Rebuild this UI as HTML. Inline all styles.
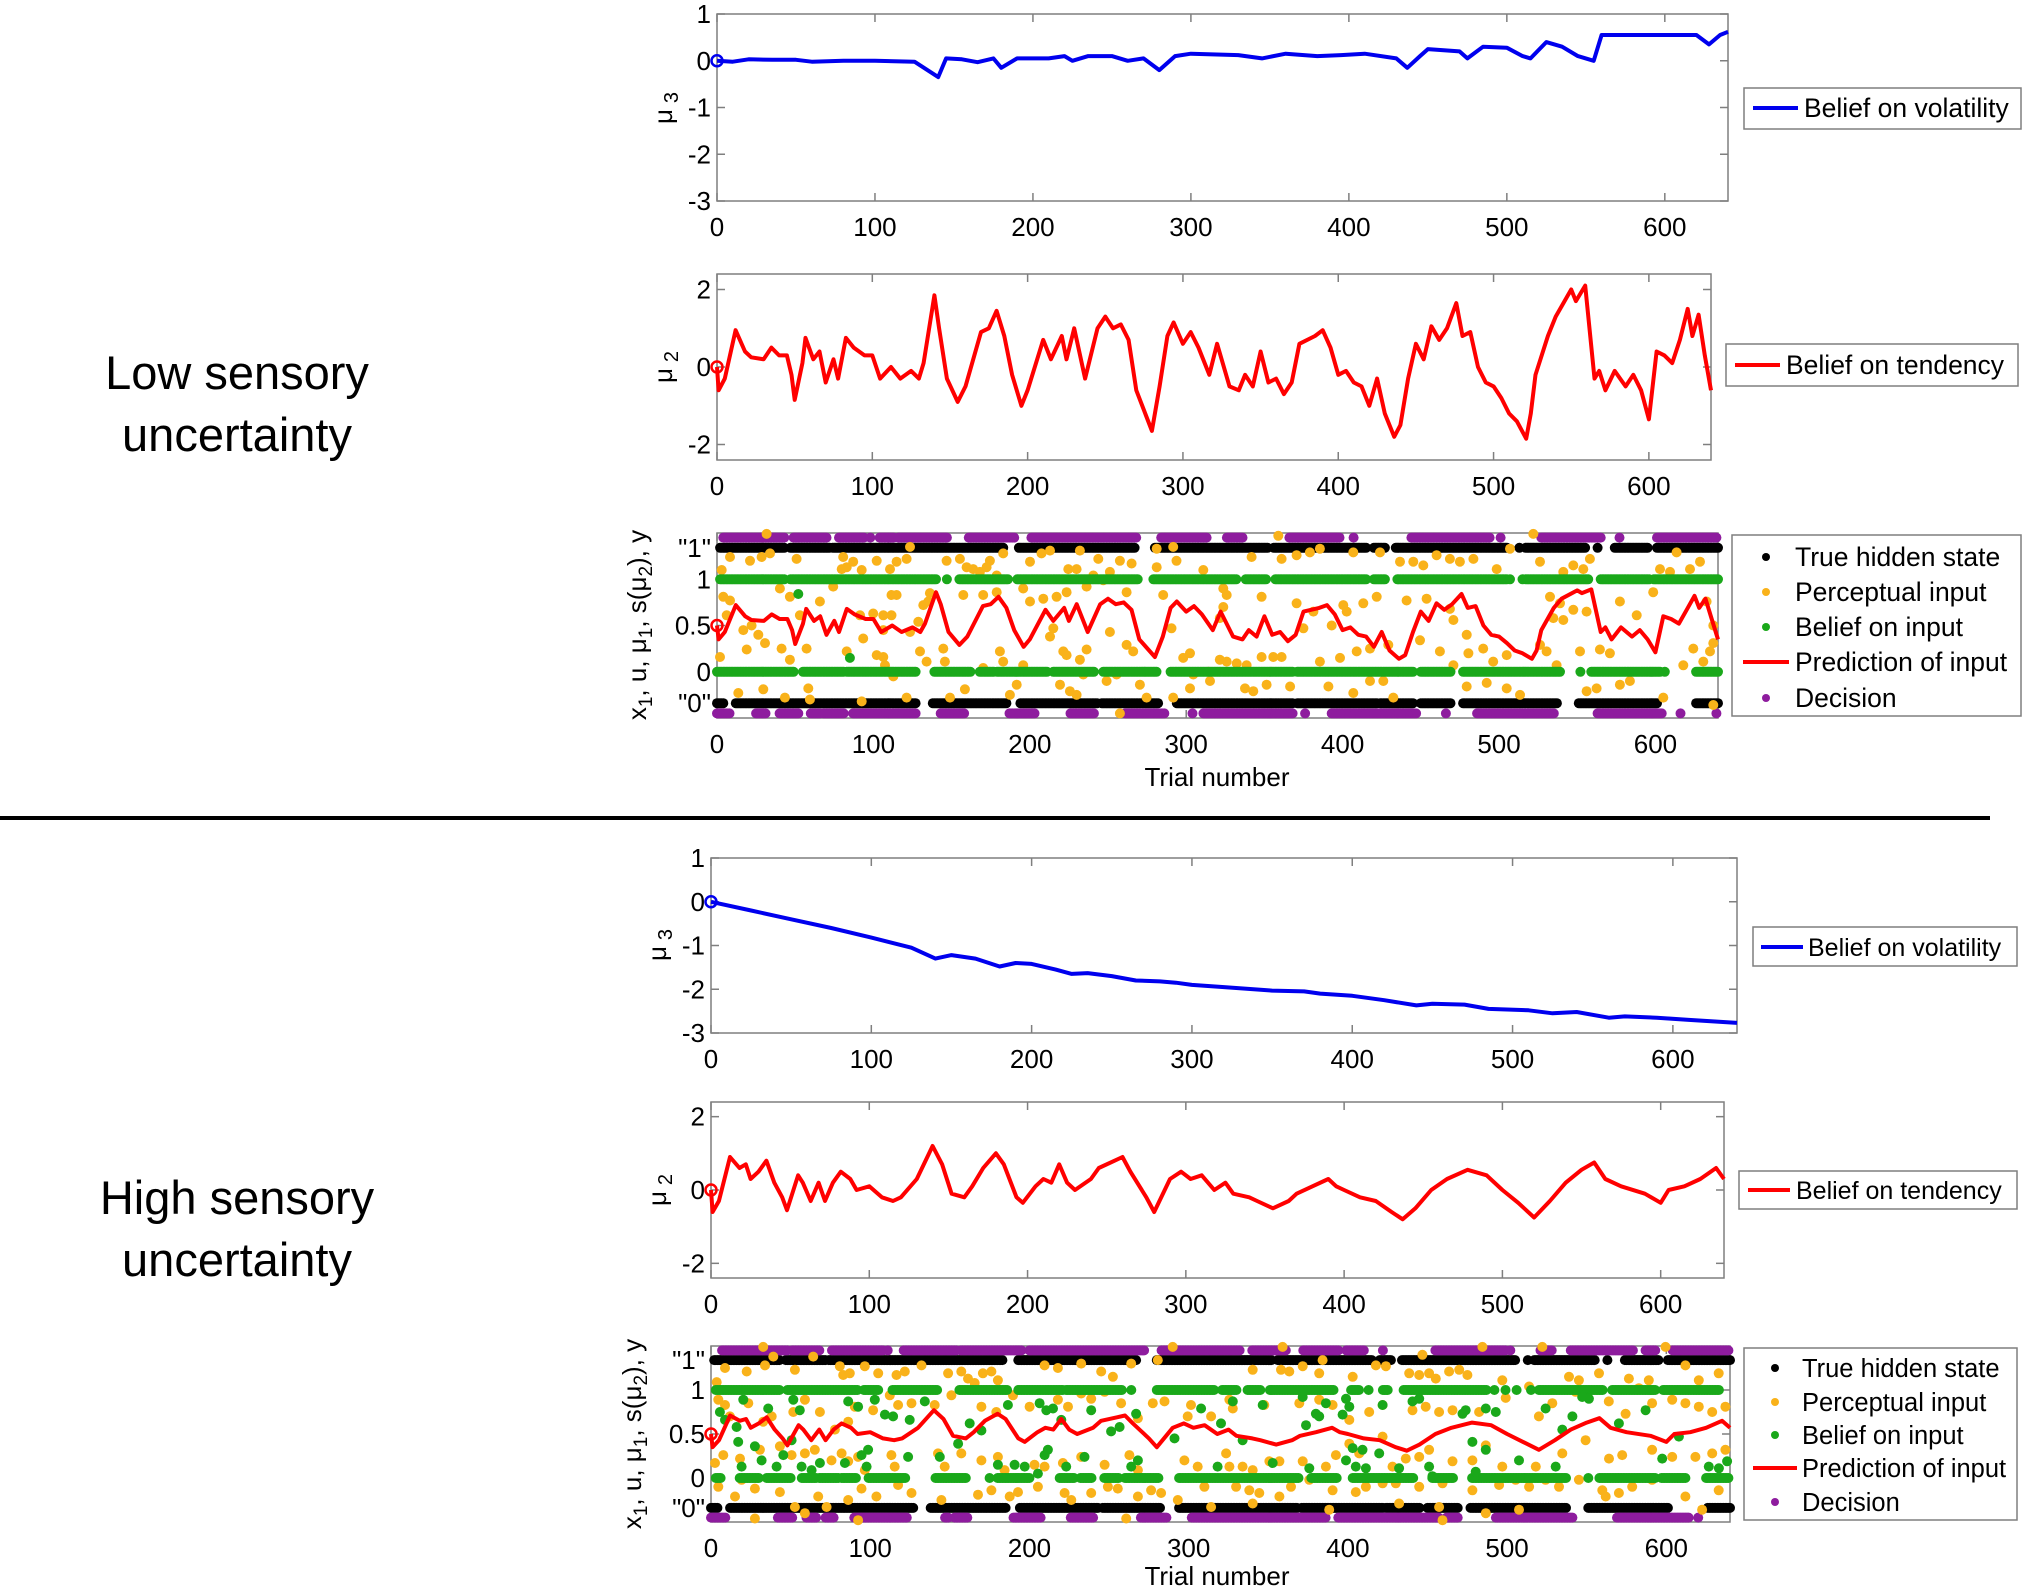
<!DOCTYPE html>
<html><head><meta charset="utf-8">
<style>
html,body{margin:0;padding:0;background:#fff;}
svg{display:block;font-family:"Liberation Sans",Arial,sans-serif;}
</style></head>
<body>
<svg id="fig" width="2030" height="1595" viewBox="0 0 2030 1595" xmlns="http://www.w3.org/2000/svg">
<rect x="0" y="0" width="2030" height="1595" fill="#fff"/>
<g font-size="47" text-anchor="middle" fill="#000">
<text x="237" y="389">Low sensory</text><text x="237" y="451">uncertainty</text></g>
<g font-size="47" text-anchor="middle" fill="#000">
<text x="237" y="1214">High sensory</text><text x="237" y="1276">uncertainty</text></g>
<line x1="0" y1="818" x2="1990" y2="818" stroke="#000" stroke-width="4"/>

<text font-size="26" text-anchor="middle" transform="translate(672,108) rotate(-90)">μ<tspan dx="6" dy="6" font-size="20">3</tspan></text>
<text font-size="26" text-anchor="middle" transform="translate(672,367) rotate(-90)">μ<tspan dx="6" dy="6" font-size="20">2</tspan></text>
<text font-size="26" text-anchor="middle" transform="translate(646,625) rotate(-90)">x<tspan dy="6" font-size="19">1</tspan><tspan dy="-6">, u, μ</tspan><tspan dy="6" font-size="19">1</tspan><tspan dy="-6">, s(μ</tspan><tspan dy="6" font-size="19">2</tspan><tspan dy="-6">), y</tspan></text>
<text font-size="26" text-anchor="middle" x="1217" y="786">Trial number</text>

<text font-size="26" text-anchor="middle" transform="translate(666,945) rotate(-90)">μ<tspan dx="6" dy="6" font-size="20">3</tspan></text>
<text font-size="26" text-anchor="middle" transform="translate(666,1190) rotate(-90)">μ<tspan dx="6" dy="6" font-size="20">2</tspan></text>
<text font-size="26" text-anchor="middle" transform="translate(641,1434) rotate(-90)">x<tspan dy="6" font-size="19">1</tspan><tspan dy="-6">, u, μ</tspan><tspan dy="6" font-size="19">1</tspan><tspan dy="-6">, s(μ</tspan><tspan dy="6" font-size="19">2</tspan><tspan dy="-6">), y</tspan></text>
<text font-size="26" text-anchor="middle" x="1217" y="1585">Trial number</text>

<g>
<rect x="1744" y="88" width="277" height="41" fill="#fff" stroke="#7f7f7f" stroke-width="1.5"/>
<line x1="1753" y1="108" x2="1798" y2="108" stroke="#0000ee" stroke-width="4"/>
<text x="1804" y="117" font-size="26.5">Belief on volatility</text></g>
<g>
<rect x="1726" y="344" width="292" height="42" fill="#fff" stroke="#7f7f7f" stroke-width="1.5"/>
<line x1="1735" y1="365" x2="1780" y2="365" stroke="#ff0000" stroke-width="4"/>
<text x="1786" y="374" font-size="26.5">Belief on tendency</text></g>
<g>
<rect x="1753" y="927" width="264" height="39" fill="#fff" stroke="#7f7f7f" stroke-width="1.5"/>
<line x1="1761" y1="947" x2="1803" y2="947" stroke="#0000ee" stroke-width="4"/>
<text x="1808" y="956" font-size="25">Belief on volatility</text></g>
<g>
<rect x="1739" y="1171" width="278" height="38" fill="#fff" stroke="#7f7f7f" stroke-width="1.5"/>
<line x1="1748" y1="1190" x2="1790" y2="1190" stroke="#ff0000" stroke-width="4"/>
<text x="1796" y="1199" font-size="25">Belief on tendency</text></g>
<g font-size="26.5">
<rect x="1732" y="535" width="289" height="181" fill="#fff" stroke="#7f7f7f" stroke-width="1.5"/>
<circle cx="1766" cy="557" r="4" fill="#000"/><text x="1795" y="566">True hidden state</text>
<circle cx="1766" cy="592" r="4" fill="#f9b21a"/><text x="1795" y="601">Perceptual input</text>
<circle cx="1766" cy="627" r="4" fill="#1aa81a"/><text x="1795" y="636">Belief on input</text>
<line x1="1743" y1="662" x2="1789" y2="662" stroke="#ff0000" stroke-width="4"/><text x="1795" y="671">Prediction of input</text>
<circle cx="1766" cy="698" r="4" fill="#8e1c9e"/><text x="1795" y="707">Decision</text></g>
<g font-size="25.5">
<rect x="1744" y="1348" width="273" height="172" fill="#fff" stroke="#7f7f7f" stroke-width="1.5"/>
<circle cx="1775" cy="1368" r="4" fill="#000"/><text x="1802" y="1377">True hidden state</text>
<circle cx="1775" cy="1402" r="4" fill="#f9b21a"/><text x="1802" y="1411">Perceptual input</text>
<circle cx="1775" cy="1435" r="4" fill="#1aa81a"/><text x="1802" y="1444">Belief on input</text>
<line x1="1753" y1="1468" x2="1797" y2="1468" stroke="#ff0000" stroke-width="4"/><text x="1802" y="1477">Prediction of input</text>
<circle cx="1775" cy="1502" r="4" fill="#8e1c9e"/><text x="1802" y="1511">Decision</text></g>
</svg>
<script>
const xTicks=[0,100,200,300,400,500,600];
const xTickLabels=['0','100','200','300','400','500','600'];
const mu3Ticks=[-3,-2,-1,0,1];
const mu3TickLabels=['-3','-2','-1','0','1'];
const mu2Ticks=[-2,0,2];
const mu2TickLabels=['-2','0','2'];
const inTicks=[-0.34,0,0.5,1,1.34];
const inTickLabels=['"0"','0','0.5','1','"1"'];

const mu3Low=[[0,0],[10,-0.02],[20,0.03],[35,0.02],[50,0.02],[60,-0.02],[80,0],[100,0],[125,-0.02],[140,-0.35],[145,0.05],[155,0.03],[165,-0.03],[175,0.05],[180,-0.15],[190,0.05],[210,0.05],[220,0.1],[225,0],[235,0.1],[250,0.1],[260,0],[270,0.05],[280,-0.2],[290,0.1],[300,0.15],[330,0.12],[345,0.05],[360,0.15],[380,0.1],[395,0.12],[410,0.15],[430,0.05],[437,-0.15],[445,0.1],[450,0.25],[470,0.2],[475,0.05],[485,0.3],[500,0.28],[510,0.1],[515,0.05],[525,0.4],[535,0.3],[545,0.1],[555,0],[560,0.55],[580,0.55],[600,0.55],[620,0.55],[628,0.35],[635,0.55],[640,0.62]];
const mu2Low=[[0,0],[1,-0.6],[5,-0.3],[12,0.95],[18,0.4],[22,0.25],[30,0.2],[35,0.5],[40,0.3],[45,0.3],[48,-0.2],[50,-0.85],[55,0.1],[57,0.75],[62,0.2],[66,0.4],[70,-0.4],[75,0.2],[78,-0.3],[83,0.75],[88,0.5],[95,0.3],[100,0.3],[105,-0.3],[112,0],[118,-0.3],[125,-0.1],[130,-0.3],[133,0.1],[140,1.85],[143,1.0],[148,-0.3],[155,-0.9],[160,-0.5],[170,0.9],[175,1.0],[180,1.45],[185,0.8],[190,-0.2],[196,-1.0],[200,-0.6],[210,0.7],[215,0.2],[222,0.8],[225,0.2],[230,1.0],[237,-0.3],[245,1.0],[250,1.3],[255,1.0],[260,1.1],[265,0.7],[270,-0.6],[280,-1.65],[285,-0.5],[290,0.8],[294,1.15],[300,0.6],[305,0.9],[310,0.5],[317,-0.2],[322,0.6],[330,-0.5],[336,-0.6],[340,-0.2],[345,-0.5],[350,0.4],[355,-0.4],[360,-0.3],[365,-0.7],[370,-0.4],[375,0.6],[385,0.8],[390,0.95],[395,0.5],[400,-0.2],[405,-0.1],[410,-0.4],[415,-0.5],[420,-1.0],[425,-0.3],[430,-1.2],[436,-1.8],[440,-1.5],[445,-0.3],[450,0.6],[455,0.2],[460,1.05],[465,0.7],[470,1.0],[476,1.65],[480,0.8],[485,0.9],[490,0],[495,-0.4],[500,-0.5],[505,-0.8],[510,-1.2],[515,-1.4],[521,-1.85],[524,-1.2],[527,-0.2],[535,0.8],[540,1.3],[550,2.0],[553,1.7],[559,2.1],[565,-0.3],[568,-0.1],[572,-0.6],[578,-0.1],[585,-0.5],[590,-0.2],[595,-0.6],[600,-1.35],[605,0.4],[610,0.3],[615,0.1],[620,0.7],[625,1.5],[628,0.8],[632,1.35],[636,0.3],[640,-0.6]];
const predLow=[[0,0.5],[1,0.35],[5,0.43],[12,0.72],[18,0.6],[22,0.56],[30,0.55],[35,0.62],[40,0.57],[45,0.57],[48,0.45],[50,0.3],[55,0.52],[57,0.68],[62,0.55],[66,0.6],[70,0.4],[75,0.55],[78,0.43],[83,0.68],[88,0.62],[95,0.57],[100,0.57],[105,0.43],[112,0.5],[118,0.43],[125,0.48],[130,0.43],[133,0.52],[140,0.86],[143,0.73],[148,0.43],[155,0.29],[160,0.38],[170,0.71],[175,0.73],[180,0.81],[185,0.69],[190,0.45],[196,0.27],[200,0.35],[210,0.67],[215,0.55],[222,0.69],[225,0.55],[230,0.73],[237,0.43],[245,0.73],[250,0.79],[255,0.73],[260,0.75],[265,0.67],[270,0.35],[280,0.16],[285,0.38],[290,0.69],[294,0.76],[300,0.65],[305,0.71],[310,0.62],[317,0.45],[322,0.65],[330,0.38],[336,0.35],[340,0.45],[345,0.38],[350,0.6],[355,0.4],[360,0.43],[365,0.33],[370,0.4],[375,0.65],[385,0.69],[390,0.72],[395,0.62],[400,0.45],[405,0.48],[410,0.4],[415,0.38],[420,0.27],[425,0.43],[430,0.23],[436,0.14],[440,0.18],[445,0.43],[450,0.65],[455,0.55],[460,0.74],[465,0.67],[470,0.73],[476,0.84],[480,0.69],[485,0.71],[490,0.5],[495,0.4],[500,0.38],[505,0.31],[510,0.23],[515,0.2],[521,0.14],[524,0.23],[527,0.45],[535,0.69],[540,0.79],[550,0.88],[553,0.85],[559,0.89],[565,0.43],[568,0.48],[572,0.35],[578,0.48],[585,0.38],[590,0.45],[595,0.35],[600,0.21],[605,0.6],[610,0.57],[615,0.52],[620,0.67],[625,0.82],[628,0.69],[632,0.79],[636,0.57],[640,0.35]];

const mu3High=[[0,0],[25,-0.2],[50,-0.4],[75,-0.6],[100,-0.82],[125,-1.05],[140,-1.3],[150,-1.22],[165,-1.3],[180,-1.48],[190,-1.4],[200,-1.42],[215,-1.55],[225,-1.65],[235,-1.63],[250,-1.7],[265,-1.8],[280,-1.82],[290,-1.85],[300,-1.9],[320,-1.95],[350,-2.03],[370,-2.05],[380,-2.1],[400,-2.15],[420,-2.25],[440,-2.37],[450,-2.33],[470,-2.35],[485,-2.45],[510,-2.48],[525,-2.55],[540,-2.52],[560,-2.65],[570,-2.62],[590,-2.65],[610,-2.7],[640,-2.77]];
const mu2High=[[0,0],[1,-0.6],[5,-0.3],[12,0.9],[18,0.6],[22,0.7],[25,0.3],[30,0.5],[35,0.8],[40,0.2],[45,-0.2],[48,-0.55],[55,0.4],[58,0.2],[63,-0.3],[68,0.2],[72,-0.3],[77,0.2],[82,0.5],[88,0.3],[92,0],[100,0.1],[108,-0.2],[115,-0.3],[120,-0.2],[130,0.3],[140,1.2],[146,0.7],[152,-0.1],[160,-0.2],[165,0.1],[172,0.6],[180,1.0],[185,0.7],[193,-0.2],[197,-0.35],[205,0.1],[210,0.3],[215,0.2],[220,0.7],[225,0.2],[230,0],[240,0.3],[245,0.6],[255,0.8],[260,0.9],[265,0.5],[275,-0.2],[280,-0.6],[290,0.3],[297,0.5],[303,0.3],[310,0.4],[318,0],[325,0.2],[330,-0.1],[340,-0.2],[345,-0.3],[355,-0.5],[365,-0.3],[370,-0.1],[380,0.1],[390,0.3],[395,0.1],[400,0],[410,-0.2],[420,-0.3],[430,-0.6],[437,-0.8],[445,-0.5],[455,0],[465,0.3],[478,0.55],[490,0.4],[500,0],[510,-0.35],[520,-0.75],[530,-0.3],[540,0.2],[550,0.55],[558,0.75],[565,0.3],[575,0.1],[590,-0.1],[600,-0.35],[605,0],[615,0.1],[625,0.3],[635,0.6],[640,0.3]];
const predHigh=[[0,0.5],[1,0.35],[5,0.43],[12,0.71],[18,0.65],[22,0.67],[25,0.57],[30,0.62],[35,0.69],[40,0.55],[45,0.45],[48,0.37],[55,0.6],[58,0.55],[63,0.43],[68,0.55],[72,0.43],[77,0.55],[82,0.62],[88,0.57],[92,0.5],[100,0.52],[108,0.45],[115,0.43],[120,0.45],[130,0.57],[140,0.77],[146,0.67],[152,0.48],[160,0.45],[165,0.52],[172,0.65],[180,0.73],[185,0.67],[193,0.45],[197,0.41],[205,0.52],[210,0.57],[215,0.55],[220,0.67],[225,0.55],[230,0.5],[240,0.57],[245,0.65],[255,0.69],[260,0.71],[265,0.62],[275,0.45],[280,0.35],[290,0.57],[297,0.62],[303,0.57],[310,0.6],[318,0.5],[325,0.55],[330,0.48],[340,0.45],[345,0.43],[355,0.38],[365,0.43],[370,0.48],[380,0.52],[390,0.57],[395,0.52],[400,0.5],[410,0.45],[420,0.43],[430,0.35],[437,0.31],[445,0.38],[455,0.5],[465,0.57],[478,0.63],[490,0.6],[500,0.5],[510,0.41],[520,0.32],[530,0.43],[540,0.55],[550,0.63],[558,0.68],[565,0.57],[575,0.52],[590,0.48],[600,0.41],[605,0.5],[615,0.52],[625,0.57],[635,0.65],[640,0.57]];

const truthOneRuns=[[2,43],[47,72],[74,183],[193,267],[280,352],[356,415],[420,427],[434,505],[513,513],[517,555],[563,563],[574,595],[601,640]];
const truthZeroRuns=[[0,4],[12,127],[138,185],[194,243],[246,282],[294,368],[371,422],[424,445],[450,469],[477,537],[551,601],[626,640]];
const decLowOneRuns=[[4,43],[49,70],[78,94],[98,98],[104,113],[116,147],[161,190],[201,268],[284,313],[326,336],[366,398],[407,407],[444,494],[501,501],[527,565],[577,577],[601,639]];
const decLowZeroRuns=[[0,8],[25,31],[40,52],[60,66],[68,81],[87,127],[143,158],[187,203],[226,241],[261,286],[304,304],[311,368],[376,376],[393,447],[466,466],[486,535],[563,604],[616,616],[639,639]];
const decHighOneRuns=[[7,48],[51,68],[76,108],[111,111],[121,154],[157,195],[200,272],[283,332],[340,361],[372,394],[399,410],[422,422],[455,499],[502,502],[521,528],[540,579],[587,593],[604,639]];
const decHighZeroRuns=[[0,9],[42,51],[60,66],[72,77],[90,123],[147,149],[153,161],[190,207],[226,240],[270,286],[302,386],[394,457],[462,469],[493,541],[569,614],[620,620]];
const beliefLowOneRuns=[[2,43],[47,140],[147,147],[155,186],[192,269],[279,332],[338,351],[357,415],[420,427],[435,505],[507,507],[515,515],[517,557],[565,596],[599,640]];
const beliefLowZeroRuns=[[0,49],[55,81],[83,127],[139,162],[168,177],[179,211],[215,241],[247,281],[290,368],[371,445],[450,469],[477,539],[552,552],[559,603],[606,606],[626,640]];
const beliefLowOther=[[52,0.84],[85,0.15]];
const beliefHighOneRuns=[[3,43],[48,92],[96,105],[114,142],[156,186],[193,221],[223,258],[264,264],[280,316],[321,330],[337,345],[351,391],[402,407],[413,413],[422,425],[435,487],[492,492],[499,499],[506,506],[515,515],[520,560],[566,593],[598,633]];
const beliefHighZeroRuns=[[3,6],[18,30],[35,50],[57,66],[68,80],[82,91],[99,122],[141,160],[175,175],[180,200],[219,228],[232,239],[247,256],[260,281],[294,369],[377,393],[403,441],[453,466],[478,537],[551,551],[558,593],[597,612],[625,639]];
const beliefHighOther=[[5.6,0.75],[20.3,0.89],[8.8,0.66],[16.1,0.58],[17.1,0.41],[27.6,0.36],[19.2,0.13],[31.8,0.2],[35.9,0.79],[41.2,0.13],[45.4,0.26],[51.7,0.89],[55.8,0.77],[50.6,0.43],[56.9,0.13],[63.2,0.09],[68.4,0.17],[84.1,0.17],[86.2,0.87],[92.4,0.81],[94.5,0.26],[98.7,0.32],[97.7,0.13],[102.9,0.89],[109.2,0.72],[114.4,0.7],[123.8,0.24],[124.8,0.66],[134.3,0.87],[143.7,0.24],[155.2,0.39],[162.5,0.62],[169.8,0.54],[180.2,0.15],[186.5,0.83],[190.7,0.15],[197,0.13],[205.3,0.05],[206.4,0.85],[209.5,0.26],[211.6,0.32],[210.6,0.77],[214.8,0.79],[220,0.66],[223.1,0.13],[234.6,0.24],[238.8,0.77],[251.3,0.53],[256.6,0.58],[263.9,0.13],[267,0.73],[268.1,0.2],[291.1,0.45],[307.8,0.79],[318.2,0.13],
[320.3,0.62],[327.7,0.87],[333.9,0.43],[346.5,0.83],[352.8,0.17],[371.6,0.92],[373.7,0.6],[379.9,0.73],[375.8,0.11],[382,0.7],[386.2,0.85],[398.8,0.9],[400.9,0.81],[396.7,0.72],[403,0.34],[398.8,0.2],[405,0.13],[409.2,0.32],[411.3,0.11],[419.7,0.28],[421.8,0.83],[432.2,0.11],[451,0.13],[453.1,0.02],[440.6,0.87],[444.8,0.9],[472,0.73],[474,0.77],[486.6,0.79],[492.9,0.75],[478.2,0.41],[486.6,0.32],[480.3,0.07],[507.5,0.2],[524.2,0.79],[534.7,0.55],[541,0.7],[551.4,0.9],[547.2,0.92],[570.2,0.62],[587,0.77],[597.4,0.22],[607.9,0.47],[626.7,0.13],[633,0.11],[638.2,0.19],[530.5,0.13]];
const inputLow=[[31.7,1.49],[8.3,1.24],[21.1,1.2],[28.5,1.24],[33.9,1.28],[3,1.1],[40.2,0.9],[4,0.81],[8.3,0.77],[50.9,1.22],[46.6,0.81],[65.8,0.76],[53,0.61],[6.2,0.61],[16.8,0.45],[22.1,0.5],[26.4,0.4],[30.7,0.31],[19,0.24],[41.3,0.25],[46.6,0.13],[57.3,0.25],[1.9,0.16],[13.6,-0.23],[29.6,-0.19],[43.4,-0.28],[58.4,-0.18],[59.4,-0.3],[74.3,0.92],[79.7,1.11],[80.7,1.24],[82.9,1.13],[87.1,1.19],[92.5,1.1],[102.1,1.2],[110.6,1.11],[114.8,1.19],[121.2,1.22],[123.4,1.35],[82.9,0.22],[91.4,0.61],[99.9,0.63],[106.3,0.61],[111.6,0.61],[93.5,0.36],[102.1,0.18],[106.3,0.16],[107.4,0.07],[92.5,-0.32],[112.7,-0.05],[121.2,-0.28],[114.8,0.83],[111.6,0.83],[106.3,0.45],[123.4,0.43],[128.7,0.54],[131.9,0.72],[135.1,0.76],[136.1,0.85],[129.8,0.22],[134,0.11],[146.8,1.2],[155.3,1.22],[159.6,1.13],[163.8,1.11],[168.1,1.08],[174.5,1.2],[172.4,1.13],[178.8,1.04],[183,1.28],[157.5,0.83],[170.2,0.83],[178.8,0.86],[144.7,0.25],[145.7,0.11],[149,-0.28],[158.5,-0.19],[170.2,0.04],[180.9,0.22],[183,0.11],[195.8,0.07],[187.3,-0.25],[191.6,-0.14],[200.1,1.19],[207.5,1.28],[212.9,1.31],[224.6,1.11],[229.9,1.11],[232,1.31],[236.3,0.92],[243.8,1.22],[251.2,1.08],[257.6,1.2],[265.1,1.17],[195.8,0.9],[200.1,0.76],[208.6,0.79],[215,0.47],[217.1,0.81],[223.5,0.86],[212.9,0.38],[221.4,0.22],[223.5,0.18],[232,0.13],[236.3,0.24],[219.3,-0.14],[225.6,-0.21],[229.9,-0.25],[234.2,-0.03],[249.1,-0.1],[255.5,-0.03],[261.9,0.29],[266.1,0.22],[270.4,-0.14],[274.7,-0.28],[257.6,-0.45],[281.1,1.13],[285.3,0.83],[293.8,1.2],[298.1,0.15],[302.4,0.2],[304.5,-0.03],[310.9,1.1],[314.1,0],[321.5,0.13],[323.7,0.9],[323.7,0.7],[321.5,0.58],[290.6,0.47],[291.7,-0.28],[302.4,-0.18],[315.2,-0.1],[251.2,0.43],[261.9,0.86],[247,0.99],[240.6,1.04],[281.1,1.33],[291.7,1.35],
[358.9,1.47],[341.8,1.24],[361,1.22],[370.6,1.26],[379.1,1.29],[385.5,1.33],[406.8,1.29],[423.9,1.29],[348.2,0.81],[325.9,0.83],[370.6,0.74],[381.3,0.65],[400.4,0.72],[402.6,0.65],[421.8,0.81],[413.2,0.74],[374.9,0.47],[393,0.5],[325.9,0.11],[332.3,0.09],[338.6,0.07],[348.2,0.16],[355.7,0.16],[361,0.16],[385.5,0.11],[398.3,0.15],[409,0.22],[417.5,0.25],[429.2,0.29],[337.6,-0.18],[342.9,-0.21],[351.4,-0.14],[366.4,-0.16],[390.9,-0.16],[406.8,-0.23],[417.5,-0.1],[426,-0.1],[432.4,-0.28],[436.7,1.19],[445.2,1.19],[451.6,1.15],[460.1,1.26],[468.6,1.22],[475,1.19],[483.6,1.22],[498.5,1.11],[507,1.33],[440.9,0.77],[453.7,0.79],[468.6,0.68],[470.8,0.56],[479.3,0.4],[449.5,0.34],[462.2,0.22],[480.4,0.2],[489.9,0.25],[496.3,0.11],[504.9,0.18],[470.8,0.07],[479.3,-0.16],[492.1,-0.12],[504.9,-0.18],[513.4,-0.25],[521.9,1.49],[526.2,1.19],[541.1,1.08],[547.5,1.15],[553.9,1.11],[558.1,1.22],[532.6,0.81],[539,0.74],[547.5,0.67],[556,0.65],[534.7,0.58],[541.1,0.56],[526.2,0.29],[530.4,0.22],[536.8,0.07],[551.8,0.22],[564.5,0.24],[570.9,0.2],[556,-0.21],[562.4,-0.18],[577.3,-0.14],[583.7,-0.1],[577.3,0.76],[588,0.61],[598.6,0.86],[602.9,1.11],[609.3,1.08],[613.5,1.29],[622.1,1.11],[628.5,1.19],[632.7,0.76],[637,0.5],[637,0.31],[624.2,0.25],[617.8,0.07],[630.6,0.11],[634.9,0.22],[605,-0.28],[637,-0.36]];
const inputHigh=[[32.8,1.49],[8.8,1.25],[22.4,1.21],[33.9,1.28],[39.1,1.38],[52.7,1.23],[64.2,1.38],[80.9,1.27],[83,1.17],[87.2,1.19],[96.6,1.27],[105,1.19],[116.5,1.17],[121.7,1.21],[132.2,1.28],[148.9,1.19],[157.2,1.21],[161.4,1.13],[165.6,1.08],[170.8,1.19],[176.1,1.21],[180.2,1.11],[209.5,1.28],[217.9,1.25],[232.5,1.3],[245.1,1.21],[252.4,1.15],[263.9,1.3],[280.6,1.34],[290,1.49],[3.6,1.09],[4.6,0.89],[8.8,0.83],[11.9,0.7],[23.4,0.85],[32.8,0.64],[38.1,0.7],[51.7,0.75],[59,0.89],[68.4,0.75],[77.8,0.55],[86.2,0.64],[90.3,0.81],[101.8,0.77],[112.3,0.94],[117.5,0.83],[125.9,0.85],[140.5,0.83],[151,0.94],[169.8,0.81],[179.2,0.75],[189.7,0.94],[200.1,0.81],[217.9,0.89],[224.2,0.81],[232.5,0.96],[238.8,0.9],[247.2,0.98],[257.6,0.85],[268.1,0.68],[277.5,0.85],[284.8,0.87],[301.5,0.83],[314.1,0.7],[299.4,0.7],[2.5,0.17],[7.7,0.26],[18.2,0.22],[30.7,0.32],[43.3,0.36],[50.6,0.26],[59,0.28],[65.2,0.32],[75.7,0.2],[82,0.28],[86.2,0.19],[92.4,0.24],[96.6,0.09],[113.3,0.26],[115.4,0.13],[142.6,0.28],[146.8,0.13],[157.2,0.28],[169.8,0.2],[180.2,0.24],[184.4,0.09],[203.2,0.15],[209.5,0.13],[221,0.17],[232.5,0.24],[247.2,0.15],[262.8,0.26],[268.1,0.09],[297.3,0.2],[305.7,0.13],[4.6,-0.1],[15.1,-0.21],[19.2,-0.02],[27.6,-0.12],[43.3,-0.16],[52.7,-0.33],[59,-0.4],[67.3,-0.21],[72.6,-0.33],[86.2,-0.25],[94.5,-0.12],[103.9,-0.21],[117.5,-0.08],[125.9,-0.17],[144.7,-0.25],[167.7,-0.19],[176.1,-0.14],[187.6,-0.21],[192.8,-0.16],[205.3,-0.1],[222.1,-0.17],[226.3,-0.25],[238.8,-0.17],[249.3,-0.1],[255.5,-0.12],[268.1,-0.21],[276.4,-0.14],[282.7,-0.17],[293.2,-0.25],[309.9,-0.1],[314.1,-0.33],[27.6,-0.46],[92.4,-0.48],[260.8,-0.46],
[359,1.49],[340.2,1.23],[358,1.23],[363.2,1.21],[371.6,1.27],[382,1.19],[384.1,1.34],[403,1.15],[417.6,1.28],[423.9,1.27],[446.8,1.4],[438.5,1.19],[444.8,1.17],[451,1.19],[455.2,1.13],[463.6,1.21],[469.9,1.23],[475.1,1.17],[484.5,1.49],[497,1.11],[522.1,1.49],[538.9,1.15],[545.1,1.11],[557.7,1.19],[576.5,1.13],[589,1.11],[599.5,1.49],[612,1.28],[620.4,1.11],[632.9,1.19],[325.6,0.89],[327.7,0.79],[347.5,0.83],[369.5,0.85],[382,0.89],[390.4,0.83],[400.9,0.66],[413.4,0.75],[421.8,0.83],[440.6,0.77],[448.9,0.81],[457.3,0.75],[465.7,0.77],[482.4,0.75],[499.1,0.91],[513.8,1.04],[520,0.7],[528.4,0.85],[543,0.98],[563.9,0.87],[574.4,0.73],[582.8,1.02],[591.1,0.85],[603.7,0.89],[612,0.85],[620.4,0.81],[628.8,0.75],[637.1,0.81],[323.5,0.28],[325.6,0.13],[333.9,0.13],[340.2,0.09],[350.7,0.19],[357,0.19],[371.6,0.19],[386.2,0.13],[392.5,0.26],[400.9,0.39],[407.1,0.28],[421.8,0.47],[428,0.13],[436.4,0.22],[444.8,0.24],[451,0.32],[465.7,0.19],[478.2,0.2],[486.6,0.37],[497,0.13],[518,0.13],[534.7,0.28],[549.3,0.43],[564,0.22],[572.3,0.26],[591.1,0.32],[603.7,0.24],[618.3,0.24],[628.8,0.28],[637.1,0.32],[329.8,-0.1],[338.1,-0.14],[344.4,-0.17],[357,-0.21],[364.3,-0.1],[375.8,-0.02],[390.4,-0.14],[405,-0.16],[411.3,-0.1],[421.8,-0.06],[430.1,-0.06],[444.8,-0.1],[459.4,-0.06],[478.2,-0.14],[495,-0.08],[505.4,-0.02],[513.8,-0.1],[524.2,-0.02],[532.6,-0.1],[545.1,-0.02],[559.8,-0.14],[570.2,-0.17],[578.6,-0.1],[591.1,-0.02],[612,-0.21],[632.9,-0.14],[340.2,-0.29],[388.3,-0.36],[432.2,-0.29],[457.3,-0.33],[486.6,-0.4],[507.5,-0.36],[561.9,-0.21],[622.5,-0.36],[459.4,-0.48]];

const NS='http://www.w3.org/2000/svg';
const svg=document.getElementById('fig');
function mk(tag,parent){const e=document.createElementNS(NS,tag);parent.appendChild(e);return e;}
const AX='#7f7f7f';

function makeAxes(p){
  const g=mk('g',svg);
  
  
  p.g=g;
  p.sx=t=>p.x0+(t/640)*(p.x1-p.x0);
  p.sy=v=>p.y1-(v-p.ymin)/(p.ymax-p.ymin)*(p.y1-p.y0);
  const box=mk('rect',g);
  
  
  box.setAttribute('x',p.x0);box.setAttribute('y',p.y0);
  box.setAttribute('width',p.x1-p.x0);box.setAttribute('height',p.y1-p.y0);
  box.setAttribute('fill','none');box.setAttribute('stroke',AX);box.setAttribute('stroke-width','1.5');
  xTicks.forEach((t,i)=>{
    const x=p.sx(t);
    [[p.y1,p.y1-8],[p.y0,p.y0+8]].forEach(([a,b])=>{
      const l=mk('line',g);
      
      
      l.setAttribute('x1',x);l.setAttribute('x2',x);l.setAttribute('y1',a);l.setAttribute('y2',b);
      l.setAttribute('stroke',AX);l.setAttribute('stroke-width','1.5');
    });
    const tx=mk('text',g);
    
    
    tx.setAttribute('x',x);tx.setAttribute('y',p.y1+35);
    tx.setAttribute('font-size','26');tx.setAttribute('text-anchor','middle');
    tx.textContent=xTickLabels[i];
  });
  p.yt.forEach((v,i)=>{
    const y=p.sy(v);
    [[p.x0,p.x0+8],[p.x1,p.x1-8]].forEach(([a,b])=>{
      const l=mk('line',g);
      
      
      l.setAttribute('x1',a);l.setAttribute('x2',b);l.setAttribute('y1',y);l.setAttribute('y2',y);
      l.setAttribute('stroke',AX);l.setAttribute('stroke-width','1.5');
    });
    const tx=mk('text',g);
    
    
    tx.setAttribute('x',p.x0-6);tx.setAttribute('y',y+9);
    tx.setAttribute('font-size','26');tx.setAttribute('text-anchor','end');
    tx.textContent=p.ytl[i];
  });
  return p;
}
function drawLine(p,data,color,name){
  const pl=mk('polyline',p.g);
  
  
  pl.setAttribute('points',data.map(d=>p.sx(d[0]).toFixed(1)+','+p.sy(d[1]).toFixed(1)).join(' '));
  pl.setAttribute('fill','none');pl.setAttribute('stroke',color);
  pl.setAttribute('stroke-width','4');pl.setAttribute('stroke-linejoin','round');
  const c=mk('circle',p.g);
  
  
  c.setAttribute('cx',p.sx(data[0][0]));c.setAttribute('cy',p.sy(data[0][1]));
  c.setAttribute('r','5.5');c.setAttribute('fill','none');c.setAttribute('stroke',color);c.setAttribute('stroke-width','2.5');
}
function drawRuns(p,runs,val,color,name){
  const g=mk('g',p.g);
  
  
  runs.forEach(r=>{
    for(let t=r[0];t<=r[1];t++){
      const c=mk('circle',g);
      c.setAttribute('cx',p.sx(t).toFixed(1));c.setAttribute('cy',p.sy(val).toFixed(1));
      c.setAttribute('r','5');c.setAttribute('fill',color);
    }
  });
}
function drawPts(p,pts,color,name){
  const g=mk('g',p.g);
  
  
  pts.forEach(d=>{
    const c=mk('circle',g);
    c.setAttribute('cx',p.sx(d[0]).toFixed(1));c.setAttribute('cy',p.sy(d[1]).toFixed(1));
    c.setAttribute('r','5');c.setAttribute('fill',color);
  });
}

const BLACK='#000',ORANGE='#f9b21a',GREEN='#1aa81a',PURPLE='#8e1c9e',BLUE='#0000ee',RED='#ff0000';

const p1=makeAxes({name:'volatility-panel-low',x0:717,x1:1728,y0:14,y1:201,ymin:-3,ymax:1,yt:mu3Ticks,ytl:mu3TickLabels});
drawLine(p1,mu3Low,BLUE,'volatility-line-low');
const p2=makeAxes({name:'tendency-panel-low',x0:717,x1:1711,y0:274,y1:460,ymin:-2.4,ymax:2.4,yt:mu2Ticks,ytl:mu2TickLabels});
drawLine(p2,mu2Low,RED,'tendency-line-low');
const p3=makeAxes({name:'input-panel-low',x0:717,x1:1718,y0:533,y1:718,ymin:-0.5,ymax:1.5,yt:inTicks,ytl:inTickLabels});
drawRuns(p3,truthOneRuns,1.34,BLACK,'true-state-one-low');
drawRuns(p3,truthZeroRuns,-0.34,BLACK,'true-state-zero-low');
drawRuns(p3,decLowOneRuns,1.45,PURPLE,'decision-one-low');
drawRuns(p3,decLowZeroRuns,-0.45,PURPLE,'decision-zero-low');
drawPts(p3,inputLow,ORANGE,'perceptual-input-low');
drawRuns(p3,beliefLowOneRuns,1,GREEN,'belief-one-low');
drawRuns(p3,beliefLowZeroRuns,0,GREEN,'belief-zero-low');
drawPts(p3,beliefLowOther,GREEN,'belief-other-low');
drawLine(p3,predLow,RED,'prediction-line-low');

const p4=makeAxes({name:'volatility-panel-high',x0:711,x1:1737,y0:858,y1:1033,ymin:-3,ymax:1,yt:mu3Ticks,ytl:mu3TickLabels});
drawLine(p4,mu3High,BLUE,'volatility-line-high');
const p5=makeAxes({name:'tendency-panel-high',x0:711,x1:1724,y0:1102,y1:1278,ymin:-2.4,ymax:2.4,yt:mu2Ticks,ytl:mu2TickLabels});
drawLine(p5,mu2High,RED,'tendency-line-high');
const p6=makeAxes({name:'input-panel-high',x0:711,x1:1730,y0:1346,y1:1522,ymin:-0.5,ymax:1.5,yt:inTicks,ytl:inTickLabels});
drawRuns(p6,truthOneRuns,1.34,BLACK,'true-state-one-high');
drawRuns(p6,truthZeroRuns,-0.34,BLACK,'true-state-zero-high');
drawRuns(p6,decHighOneRuns,1.45,PURPLE,'decision-one-high');
drawRuns(p6,decHighZeroRuns,-0.45,PURPLE,'decision-zero-high');
drawPts(p6,inputHigh,ORANGE,'perceptual-input-high');
drawRuns(p6,beliefHighOneRuns,1,GREEN,'belief-one-high');
drawRuns(p6,beliefHighZeroRuns,0,GREEN,'belief-zero-high');
drawPts(p6,beliefHighOther,GREEN,'belief-other-high');
drawLine(p6,predHigh,RED,'prediction-line-high');
</script>
</body></html>
